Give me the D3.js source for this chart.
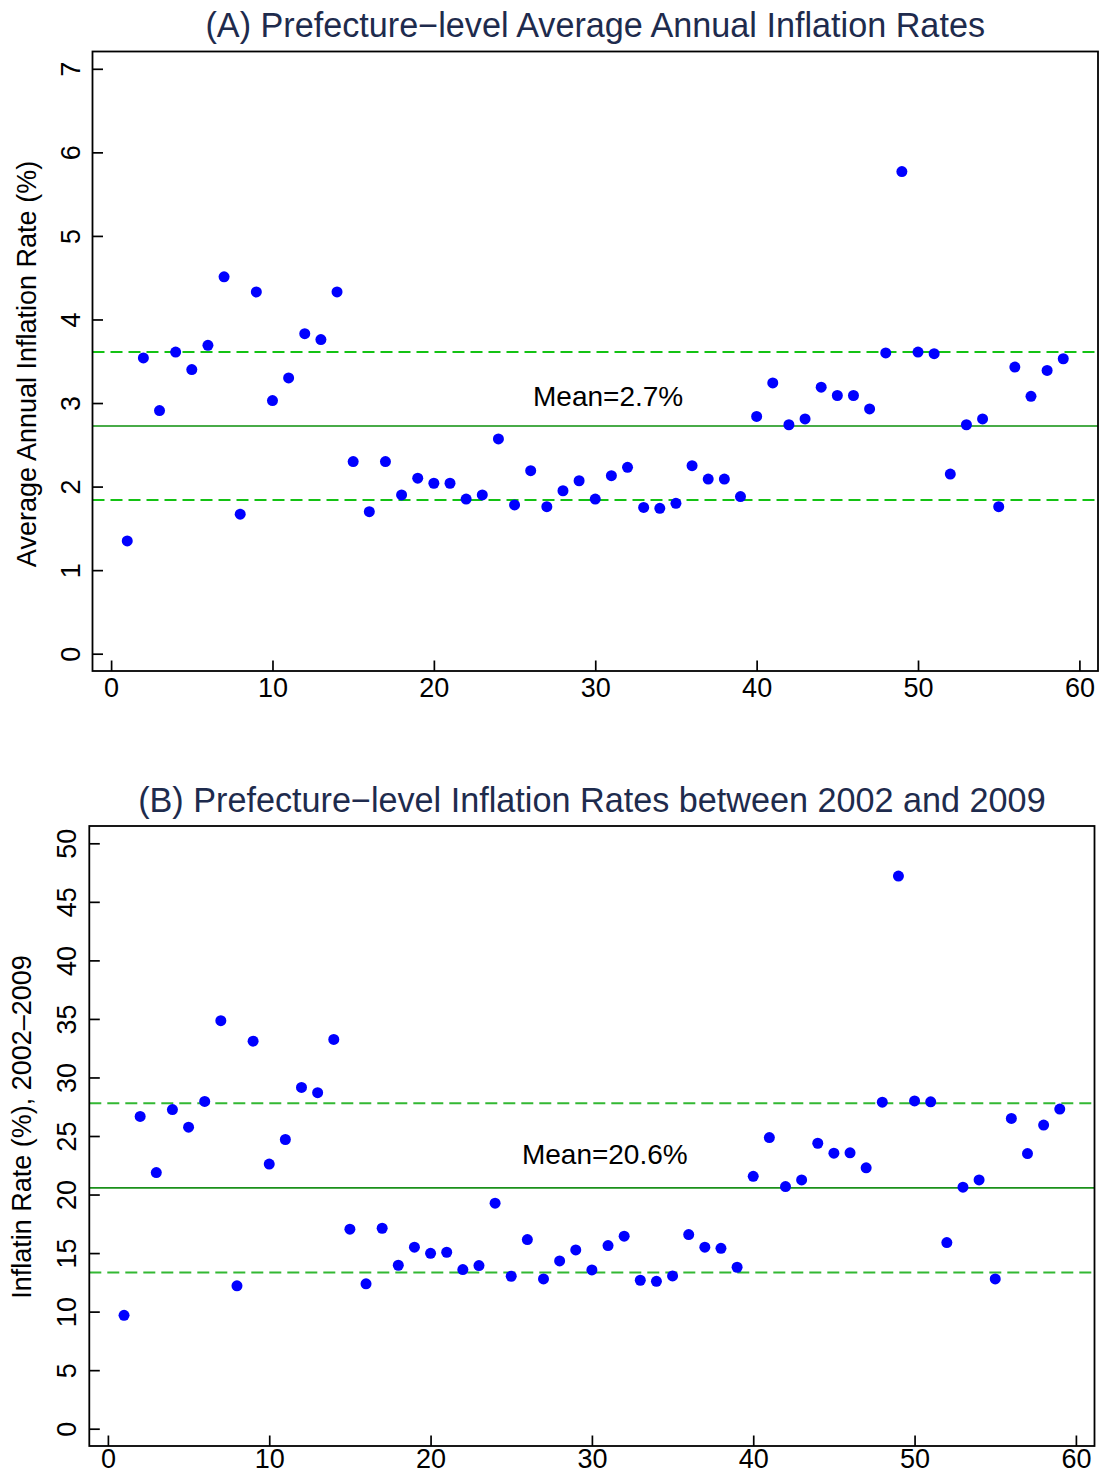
<!DOCTYPE html>
<html>
<head>
<meta charset="utf-8">
<script src="https://cdn.jsdelivr.net/npm/d3@7"></script>
<style>
  body { margin: 0; background: #fff; }
  svg text { font-family: "Liberation Sans", Arial, Helvetica, sans-serif; }
</style>
</head>
<body>
<div id="chart"></div>
<script>
// prefecture index (x) shared by both panels
const prefecture = [1, 2, 3, 4, 5, 6, 7, 8, 9, 10, 11, 12, 13, 14, 15, 16, 17, 18, 19, 20,
  21, 22, 23, 24, 25, 26, 27, 28, 29, 30, 31, 32, 33, 34, 35, 36, 37, 38, 39, 40,
  41, 42, 43, 44, 45, 46, 47, 48, 49, 50, 51, 52, 53, 54, 55, 56, 57, 58, 59];

// (A) average annual inflation rate, %
const avgAnnualRate = [1.35, 3.54, 2.91, 3.61, 3.40, 3.69, 4.51, 1.67, 4.33, 3.03,
  3.30, 3.83, 3.76, 4.33, 2.30, 1.70, 2.30, 1.90, 2.10, 2.04,
  2.04, 1.85, 1.90, 2.57, 1.78, 2.19, 1.76, 1.95, 2.07, 1.85,
  2.13, 2.23, 1.75, 1.74, 1.80, 2.25, 2.09, 2.09, 1.88, 2.84,
  3.24, 2.74, 2.81, 3.19, 3.09, 3.09, 2.93, 3.60, 5.77, 3.61,
  3.59, 2.15, 2.74, 2.81, 1.76, 3.43, 3.08, 3.39, 3.53];

// (B) cumulative inflation 2002-2009, %
const rate2002to2009 = [9.68, 26.67, 21.88, 27.26, 25.75, 27.95, 34.85, 12.20, 33.10, 22.60,
  24.70, 29.15, 28.70, 33.25, 17.04, 12.37, 17.12, 13.96, 15.50, 14.98,
  15.07, 13.59, 13.93, 19.26, 13.02, 16.15, 12.79, 14.33, 15.27, 13.56,
  15.64, 16.44, 12.68, 12.59, 13.05, 16.58, 15.50, 15.41, 13.79, 21.56,
  24.87, 20.68, 21.25, 24.38, 23.53, 23.56, 22.28, 27.89, 47.20, 28.00,
  27.92, 15.90, 20.63, 21.25, 12.79, 26.50, 23.50, 25.93, 27.30];

const xTicks = [0, 10, 20, 30, 40, 50, 60];
const yTicksA = [0, 1, 2, 3, 4, 5, 6, 7];
const yTicksB = [0, 5, 10, 15, 20, 25, 30, 35, 40, 45, 50];

// mean and mean +/- 1 sd
const refLinesA = [1.84, 2.725, 3.61];
const refLinesB = [13.34, 20.57, 27.80];
const meanLabelA = {x: 30.8, y: 2.97, text: "Mean=2.7%"};
const meanLabelB = {x: 30.8, y: 22.65, text: "Mean=20.6%"};

const titleA = "(A) Prefecture\u2212level Average Annual Inflation Rates";
const titleB = "(B) Prefecture\u2212level Inflation Rates between 2002 and 2009";
const yTitleA = "Average Annual Inflation Rate (%)";
const yTitleB = "Inflatin Rate (%), 2002\u20132009";

class ScatterPanel {

  constructor(svg, box, opt) {
    this.svg = svg;
    this.box = box;
    this.opt = opt;
    let padX = 18.6, padY = 17.3;
    this.xscale = d3.scaleLinear()
      .domain([0, 60])
      .range([box.left + padX, box.right - padX]);
    this.yscale = d3.scaleLinear()
      .domain(d3.extent(opt.yTicks))
      .range([box.bottom - padY, box.top + padY]);
    this.addTitles();
    this.addRefLines();
    this.addPoints();
    this.addAxis();
  }

  addTitles() {
    let b = this.box;
    this.svg.append("text")
      .text(this.opt.title)
      .attr("x", (b.left + b.right) / 2)
      .attr("y", b.top - 14.5)
      .attr("text-anchor", "middle")
      .attr("font-size", "34.2px")
      .attr("fill", "#1e2b4d");
    this.svg.append("text")
      .text(this.opt.yTitle)
      .attr("transform", "translate(" + this.opt.yTitleX + " " + this.opt.yTitleY + ") rotate(-90)")
      .attr("text-anchor", "middle")
      .attr("font-size", "27px")
      .attr("fill", "#000");
  }

  addRefLines() {
    let b = this.box;
    let lines = this.opt.refLines;
    // lower and upper are dashed, the mean is solid
    this.svg.append("g").selectAll("line")
      .data(lines)
      .join("line")
        .attr("x1", b.left)
        .attr("x2", b.right)
        .attr("y1", d => this.yscale(d))
        .attr("y2", d => this.yscale(d))
        .attr("stroke", (d, i) => i == 1 ? this.opt.solidColor : this.opt.dashColor)
        .attr("stroke-width", (d, i) => i == 1 ? 1.7 : 2)
        .attr("stroke-dasharray", (d, i) => i == 1 ? null : "12,6");
    let lab = this.opt.meanLabel;
    this.svg.append("text")
      .text(lab.text)
      .attr("x", this.xscale(lab.x))
      .attr("y", this.yscale(lab.y))
      .attr("text-anchor", "middle")
      .attr("font-size", "28px");
  }

  addPoints() {
    let vals = this.opt.values;
    this.svg.append("g").selectAll("circle")
      .data(prefecture)
      .join("circle")
        .attr("cx", d => this.xscale(d))
        .attr("cy", (d, i) => this.yscale(vals[i]))
        .attr("r", 5.5)
        .attr("fill", "#0000ff");
  }

  addAxis() {
    let b = this.box;
    let fmt = d3.format("d");
    let xg = this.svg.append("g")
      .attr("transform", "translate(0 " + b.bottom + ")")
      .call(d3.axisBottom(this.xscale).tickValues(xTicks).tickFormat(fmt)
        .tickSize(-10.5).tickSizeOuter(0));
    xg.select(".domain").remove();
    xg.selectAll("text")
      .attr("y", this.opt.xLabelGap)
      .attr("dy", 0)
      .attr("font-size", "27px")
      .attr("font-family", null)
      .attr("fill", "#000");

    let yg = this.svg.append("g")
      .attr("transform", "translate(" + b.left + " 0)")
      .call(d3.axisLeft(this.yscale).tickValues(this.opt.yTicks).tickFormat(fmt)
        .tickSize(-10.5).tickSizeOuter(0));
    yg.select(".domain").remove();
    yg.selectAll("text")
      .attr("x", null)
      .attr("dy", null)
      .attr("transform", "translate(" + (-this.opt.yLabelGap) + " 0) rotate(-90)")
      .attr("text-anchor", "middle")
      .attr("font-size", "27px")
      .attr("font-family", null)
      .attr("fill", "#000");

    this.svg.selectAll(".tick line")
      .attr("stroke", "#000")
      .attr("stroke-width", 1.7);

    this.svg.append("rect")
      .attr("x", b.left)
      .attr("y", b.top)
      .attr("width", b.right - b.left)
      .attr("height", b.bottom - b.top)
      .attr("fill", "none")
      .attr("stroke", "#000")
      .attr("stroke-width", 1.8);
  }
}

const svg = d3.select("#chart").append("svg")
  .attr("width", 1100)
  .attr("height", 1474)
  .style("background-color", "#fff");

new ScatterPanel(svg.append("g"), {left: 92.5, right: 1098, top: 51.5, bottom: 671}, {
  title: titleA,
  yTitle: yTitleA,
  yTitleX: 35.5, yTitleY: 364,
  yLabelGap: 12.5,
  xLabelGap: 26,
  yTicks: yTicksA,
  values: avgAnnualRate,
  refLines: refLinesA,
  meanLabel: meanLabelA,
  dashColor: "#14c214",
  solidColor: "#0b8f0b"
});

new ScatterPanel(svg.append("g"), {left: 89.3, right: 1094.5, top: 826, bottom: 1446}, {
  title: titleB,
  yTitle: yTitleB,
  yTitleX: 31, yTitleY: 1127,
  yLabelGap: 13,
  xLabelGap: 21.5,
  yTicks: yTicksB,
  values: rate2002to2009,
  refLines: refLinesB,
  meanLabel: meanLabelB,
  dashColor: "#33b833",
  solidColor: "#1a901a"
});
</script>
</body>
</html>
